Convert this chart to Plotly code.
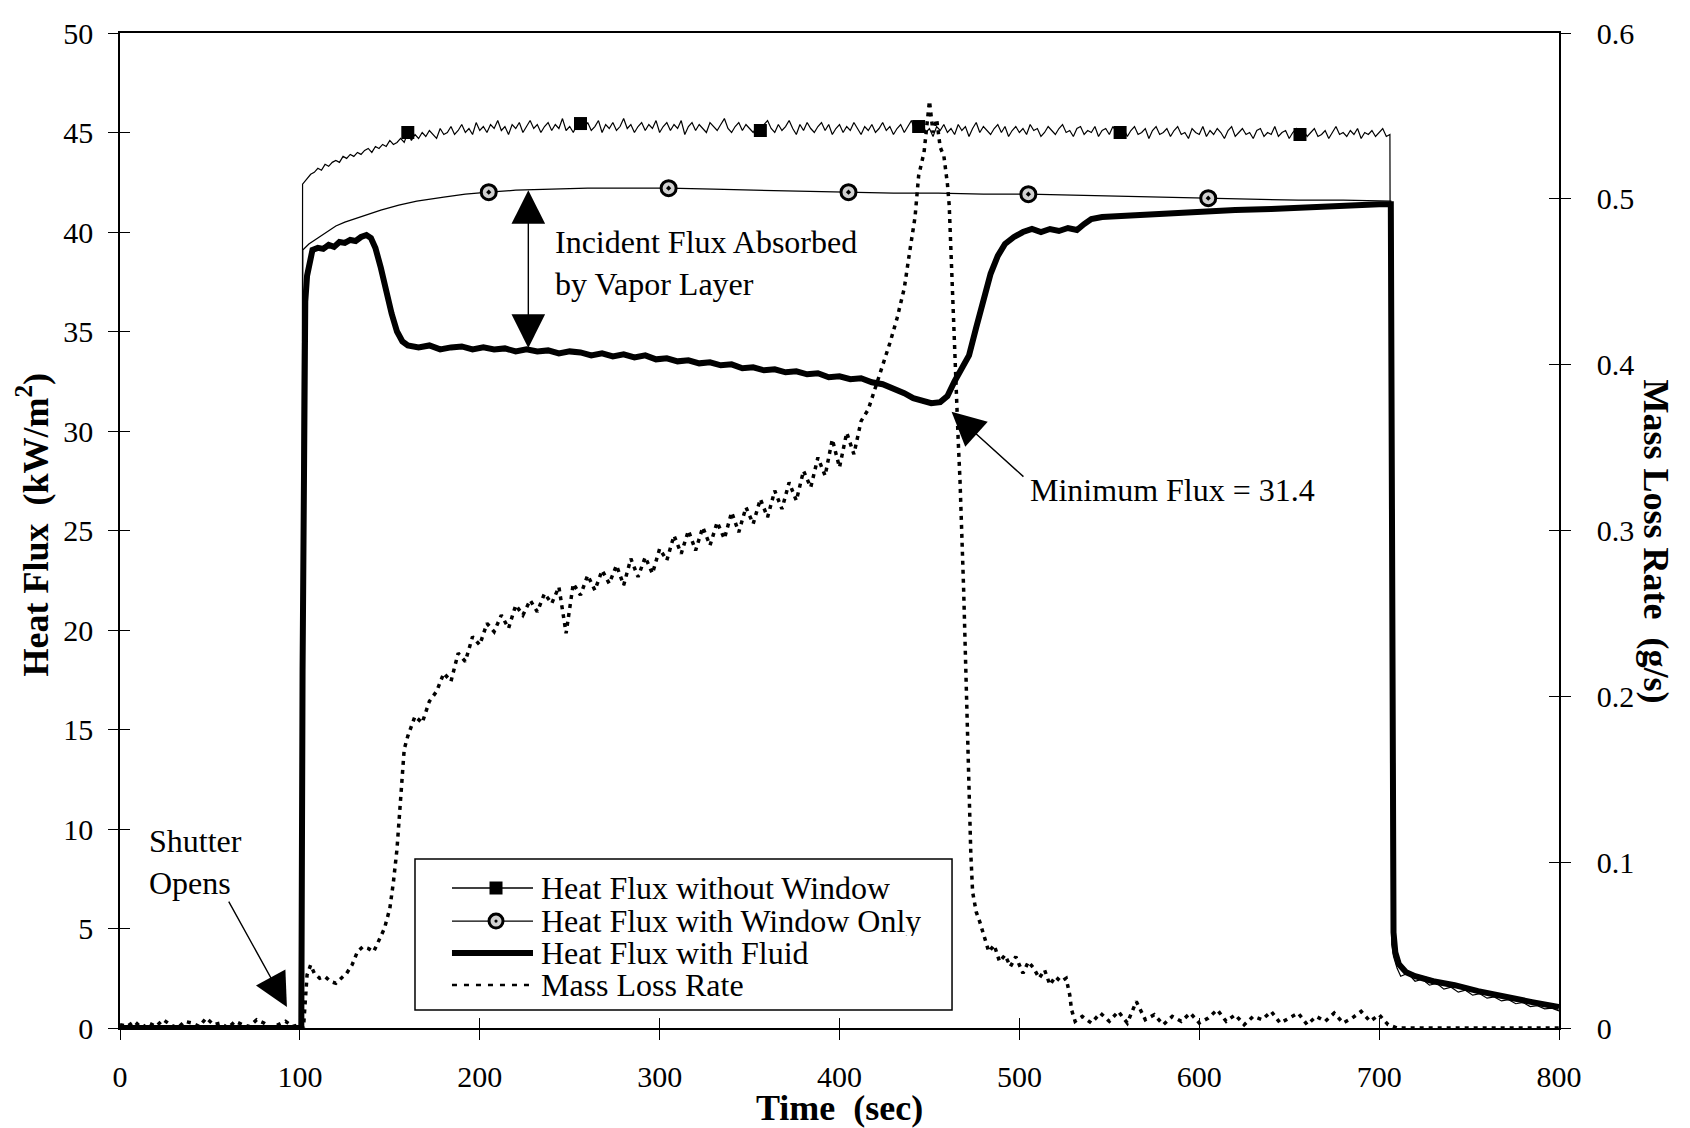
import plotly.graph_objects as go

# ---------------- data ----------------
# Heat flux measured without the window (kW/m^2), plateau sampled every 2 s
nowin_head_t = [0, 100, 101, 101.5]
nowin_head_q = [0, 0, 0, 42.4]
nowin_mid_t = list(range(104, 705, 2))
nowin_mid_q = [
    42.7, 42.9, 43.0, 43.2, 43.1, 43.4, 43.3, 43.5, 43.6, 43.5,
    43.8, 43.7, 43.9, 43.8, 44.0, 43.9, 44.1, 44.2, 44.0, 44.3,
    44.2, 44.4, 44.3, 44.6, 44.4, 44.5, 44.7, 44.5, 45.0, 44.6,
    44.9, 44.7, 45.0, 44.8, 45.1, 44.9, 44.7, 45.2, 44.9, 45.0,
    45.3, 44.9, 45.1, 45.4, 45.0, 45.2, 44.9, 45.5, 45.1, 45.3,
    45.0, 45.4, 45.2, 45.6, 45.1, 45.3, 44.9, 45.4, 45.2, 45.5,
    45.0, 45.3, 45.6, 45.2, 45.4, 45.0, 45.3, 45.5, 45.1, 45.4,
    45.2, 45.7, 45.1, 45.3, 45.0, 45.4, 45.45, 45.2, 45.5, 45.1,
    45.3, 45.6, 45.0, 45.4, 45.2, 45.5, 45.1, 45.3, 45.7, 45.2,
    45.4, 45.0, 45.3, 45.5, 45.1, 45.4, 45.2, 45.6, 45.0, 45.3,
    45.5, 45.1, 45.4, 45.2, 45.6, 44.9, 45.3, 45.5, 45.1, 45.4,
    45.2, 45.0, 45.5, 45.3, 45.1, 45.4, 45.7, 45.2, 45.0, 45.3,
    45.5, 45.1, 45.4, 45.2, 45.0, 45.3, 45.1, 45.4, 45.6, 45.2,
    45.0, 45.4, 45.1, 45.3, 45.6, 45.2, 44.9, 45.4, 45.1, 45.5,
    45.2, 45.0, 45.3, 45.5, 45.1, 45.4, 44.9, 45.2, 45.4, 45.0,
    45.3, 45.1, 45.5, 45.2, 44.9, 45.3, 45.1, 45.4, 45.0, 45.2,
    45.5, 45.1, 45.3, 44.9, 45.2, 45.4, 45.0, 45.3, 45.6, 45.1,
    45.3, 45.5, 45.0, 45.2, 44.8, 45.3, 45.1, 45.4, 45.0, 45.2,
    44.9, 45.4, 45.1, 45.3, 44.8, 45.2, 45.5, 45.0, 45.3, 45.1,
    44.9, 45.2, 45.4, 45.0, 45.3, 44.8, 45.1, 45.3, 45.0, 45.2,
    44.9, 45.4, 45.1, 45.2, 44.8, 45.0, 45.3, 45.1, 44.9, 45.2,
    45.4, 45.0, 45.1, 44.8, 45.2, 45.3, 44.9, 45.1, 45.0, 45.3,
    44.8, 45.1, 45.2, 44.9, 45.3, 45.0, 45.0, 45.2, 44.8, 45.1,
    45.3, 44.9, 45.0, 45.2, 44.7, 45.1, 45.3, 44.9, 45.0, 45.2,
    44.8, 45.1, 45.3, 44.9, 45.0, 44.7, 45.2, 45.0, 44.9, 45.3,
    44.8, 45.1, 44.9, 45.2, 45.0, 44.7, 45.1, 45.3, 44.8, 45.0,
    45.2, 44.9, 45.0, 44.7, 45.1, 45.2, 44.8, 45.0, 44.9, 45.3,
    44.8, 45.0, 45.1, 44.7, 45.0, 45.2, 44.9, 45.1, 44.8, 45.0,
    45.2, 44.8, 44.9, 45.1, 44.7, 45.0, 45.3, 44.9, 45.0, 44.8,
    45.1, 44.9, 45.2, 44.7, 45.0, 44.9, 45.1, 44.8, 45.0, 45.2,
    44.8,
]
nowin_tail_t = [706, 707, 708, 710, 712, 716, 720, 724, 728, 732, 736, 740, 744,
                748, 752, 756, 760, 764, 768, 772, 776, 780, 784, 788, 792, 796, 800]
nowin_tail_q = [44.9, 4.2, 3.6, 3.0, 2.6, 2.75, 2.35, 2.45, 2.15, 2.25, 1.95, 2.05, 1.8,
                1.9, 1.65, 1.72, 1.5, 1.56, 1.36, 1.42, 1.22, 1.28, 1.08, 1.12, 0.96, 1.0, 0.86]
nowin_marker_t = [160, 256, 356, 444, 556, 656]

# Heat flux with the window only (kW/m^2)
win_t = [0, 101, 101.6, 105, 110, 115, 120, 125, 135, 145, 155, 165, 180, 192, 205,
         220, 240, 260, 280, 305, 330, 355, 380, 405, 430, 455, 480, 505, 530, 555,
         580, 605, 630, 655, 680, 706.5, 707.2, 708, 710, 715, 720, 740, 760, 780, 800]
win_q = [0, 0, 39.1, 39.4, 39.7, 40.0, 40.3, 40.5, 40.8, 41.1, 41.35, 41.55, 41.75, 41.9, 42.0,
         42.1, 42.15, 42.2, 42.2, 42.2, 42.15, 42.1, 42.05, 42.0, 41.95, 41.95, 41.9, 41.9, 41.85, 41.8,
         41.75, 41.7, 41.65, 41.6, 41.6, 41.55, 8.5, 4.6, 3.4, 2.9, 2.7, 2.2, 1.8, 1.4, 1.05]
win_marker_t = [205, 305, 405, 505, 605]

# Heat flux with the fluid in place (kW/m^2)
fluid_t = [0, 100, 100.8, 101.5, 102.3, 103, 104, 105.5, 107, 110, 113, 116, 119, 122, 125,
           128, 131, 134, 137, 139.5, 142, 145, 148, 151, 154, 157, 160, 166, 172, 178, 184,
           190, 196, 202, 208, 214, 220, 226, 232, 238, 244, 250, 256, 262, 268, 274, 280,
           286, 292, 298, 304, 310, 316, 322, 328, 334, 340, 346, 352, 358, 364, 370, 376,
           382, 388, 394, 400, 406, 412, 418, 424, 430, 436, 441, 446, 451, 456, 460, 464,
           468, 472, 476, 480, 484, 488, 492, 497, 502, 507, 512, 517, 522, 527, 532, 536,
           540, 546, 555, 565, 580, 600, 620, 640, 660, 680, 700, 706.5, 707.2, 708, 709,
           711, 715, 720, 730, 742, 755, 770, 785, 800]
fluid_q = [0, 0, 0, 18, 32, 36.5, 37.8, 38.6, 39.1, 39.2, 39.15, 39.35, 39.25, 39.5, 39.45,
           39.6, 39.55, 39.75, 39.85, 39.7, 39.2, 38.2, 37.0, 35.9, 35.0, 34.5, 34.3, 34.2, 34.3, 34.1, 34.2,
           34.25, 34.1, 34.2, 34.1, 34.15, 34.0, 34.1, 34.0, 34.05, 33.9, 34.0, 33.95, 33.8, 33.9, 33.75, 33.85,
           33.7, 33.8, 33.6, 33.65, 33.5, 33.55, 33.4, 33.45, 33.3, 33.35, 33.15, 33.2, 33.05, 33.1, 32.95, 33.0,
           32.85, 32.9, 32.7, 32.75, 32.6, 32.65, 32.45, 32.35, 32.15, 31.9, 31.65, 31.5, 31.4, 31.45, 31.75, 32.5,
           33.1, 33.8, 35.2, 36.7, 37.9, 38.8, 39.4, 39.75, 40.0, 40.15, 40.0, 40.15, 40.05, 40.2, 40.1, 40.4,
           40.65, 40.75, 40.8, 40.85, 40.9, 41.0, 41.1, 41.15, 41.25, 41.3, 41.4, 41.4, 8.0, 4.8, 3.8,
           3.2, 2.8, 2.6, 2.35, 2.15, 1.85, 1.55, 1.3, 1.05]
MIN_FLUX = 31.4

# Mass loss rate of the fluid (g/s)
mlr_t = (list(range(0, 101, 4))
         + [102, 103, 104, 106, 108, 111, 114, 117, 120, 123, 126, 129, 132, 135, 138,
            141, 144, 147, 150, 152, 154, 156, 158]
         + [160, 164, 168, 172, 176, 180, 184, 188, 192, 196, 200, 204, 208, 212, 216,
            220, 224, 228, 232, 236, 240, 244, 248, 252, 256, 260, 264, 268, 272, 276,
            280, 284, 288, 292, 296, 300, 304, 308, 312, 316, 320, 324, 328, 332, 336,
            340, 344, 348, 352, 356, 360, 364, 368, 372, 376, 380, 384, 388, 392, 396,
            400, 404, 408]
         + [412, 416, 420, 424, 428, 432, 436, 439, 442, 444, 447, 450, 452, 454, 456,
            458, 460, 461, 462, 463, 464, 466, 467, 468, 469, 470, 471, 472, 473, 474,
            476, 478, 480, 483, 486, 489, 492, 495, 498, 502, 505, 508, 511, 514, 517,
            520, 523, 526, 528, 529, 531]
         + list(range(535, 706, 5))
         + [710, 800])
mlr_v = ([0.002, 0.001, 0.004, 0.000, 0.003, 0.001, 0.005, 0.002, 0.000, 0.004, 0.003, 0.001, 0.006,
          0.002, 0.003, 0.000, 0.004, 0.002, 0.001, 0.005, 0.003, 0.000, 0.002, 0.004, 0.001, 0.002]
         + [0.000, 0.015, 0.032, 0.038, 0.033, 0.030, 0.031, 0.028, 0.027, 0.030, 0.033, 0.038, 0.046,
            0.049, 0.048, 0.046, 0.053, 0.060, 0.072, 0.088, 0.108, 0.140, 0.168]
         + [0.176, 0.188, 0.184, 0.197, 0.203, 0.214, 0.209, 0.226, 0.221, 0.236, 0.231, 0.244, 0.239,
            0.249, 0.241, 0.255, 0.249, 0.258, 0.251, 0.262, 0.256, 0.266, 0.238, 0.268, 0.261, 0.273,
            0.264, 0.276, 0.268, 0.279, 0.267, 0.283, 0.272, 0.284, 0.274, 0.289, 0.282, 0.297, 0.286,
            0.300, 0.288, 0.302, 0.291, 0.305, 0.295, 0.311, 0.299, 0.314, 0.304, 0.319, 0.308, 0.324,
            0.313, 0.329, 0.318, 0.336, 0.326, 0.344, 0.333, 0.355, 0.338, 0.359, 0.346]
         + [0.366, 0.373, 0.386, 0.399, 0.413, 0.428, 0.446, 0.468, 0.489, 0.514, 0.528, 0.559, 0.540,
            0.548, 0.531, 0.526, 0.509, 0.496, 0.466, 0.434, 0.404, 0.354, 0.330, 0.300, 0.265, 0.225,
            0.180, 0.140, 0.105, 0.082, 0.070, 0.064, 0.056, 0.046, 0.050, 0.040, 0.044, 0.037, 0.043,
            0.033, 0.040, 0.036, 0.030, 0.035, 0.026, 0.031, 0.028, 0.030, 0.020, 0.011, 0.004]
         + [0.007, 0.003, 0.009, 0.004, 0.010, 0.003, 0.016, 0.005, 0.008, 0.002, 0.007, 0.004, 0.009,
            0.003, 0.006, 0.011, 0.004, 0.008, 0.002, 0.007, 0.005, 0.010, 0.003, 0.006, 0.009, 0.002,
            0.007, 0.004, 0.009, 0.003, 0.006, 0.010, 0.004, 0.008, 0.002]
         + [0.0, 0.0])

x_ticks = [0, 100, 200, 300, 400, 500, 600, 700, 800]
flux_ticks = [0, 5, 10, 15, 20, 25, 30, 35, 40, 45, 50]
mlr_ticks = [0, 0.1, 0.2, 0.3, 0.4, 0.5, 0.6]
mlr_ticktext = ["0", "0.1", "0.2", "0.3", "0.4", "0.5", "0.6"]

legend_labels = ["Heat Flux without Window", "Heat Flux with Window Only",
                 "Heat Flux with Fluid", "Mass Loss Rate"]

# ---------------- assemble ----------------
nowin_t = nowin_head_t + nowin_mid_t + nowin_tail_t
nowin_q = nowin_head_q + nowin_mid_q + nowin_tail_q
nowin_marker_q = [nowin_q[nowin_t.index(t)] for t in nowin_marker_t]
win_marker_q = [win_q[win_t.index(t)] for t in win_marker_t]

FONT = "Liberation Serif"
INK = "black"

fig = go.Figure()

fig.add_trace(go.Scatter(x=win_t, y=win_q, mode="lines", name=legend_labels[1],
                         line=dict(color=INK, width=1.3), hoverinfo="skip"))
fig.add_trace(go.Scatter(x=nowin_t, y=nowin_q, mode="lines", name=legend_labels[0],
                         line=dict(color=INK, width=1.2), hoverinfo="skip"))
fig.add_trace(go.Scatter(x=mlr_t, y=mlr_v, mode="lines", name=legend_labels[3], yaxis="y2",
                         line=dict(color=INK, width=3.5, dash="4px,5px"), hoverinfo="skip"))
fig.add_trace(go.Scatter(x=fluid_t, y=fluid_q, mode="lines", name=legend_labels[2],
                         line=dict(color=INK, width=6), hoverinfo="skip"))
fig.add_trace(go.Scatter(x=nowin_marker_t, y=nowin_marker_q, mode="markers",
                         marker=dict(symbol="square", size=13, color=INK), hoverinfo="skip"))
fig.add_trace(go.Scatter(x=win_marker_t, y=win_marker_q, mode="markers",
                         marker=dict(symbol="circle-dot", size=15, color="#d0d0d0",
                                     line=dict(color=INK, width=3)), hoverinfo="skip"))
# carriers for the inward half of the crossing tick marks
fig.add_trace(go.Scatter(x=[None], y=[None], xaxis="x2", yaxis="y3", hoverinfo="skip"))
fig.add_trace(go.Scatter(x=[None], y=[None], xaxis="x", yaxis="y4", hoverinfo="skip"))

tickfont = dict(family=FONT, size=30, color=INK)
common = dict(showgrid=False, zeroline=False, tickcolor=INK, tickwidth=1.3, ticklen=10)

fig.update_layout(
    width=1690, height=1128,
    margin=dict(l=120, r=131, t=33, b=100),
    paper_bgcolor="white", plot_bgcolor="white",
    showlegend=False,
    font=dict(family=FONT, size=30, color=INK),
    xaxis=dict(range=[0, 800], tickvals=x_ticks, ticks="outside", showline=True,
               linecolor=INK, linewidth=1.5, mirror=True, tickfont=tickfont,
               ticklabelstandoff=11, **common),
    xaxis2=dict(range=[0, 800], tickvals=x_ticks, ticks="inside", overlaying="x",
                anchor="y", showticklabels=False, showline=False, **common),
    yaxis=dict(range=[0, 50], tickvals=flux_ticks, ticks="outside", showline=True,
               linecolor=INK, linewidth=1.5, tickfont=tickfont, ticklabelstandoff=9,
               **common),
    yaxis2=dict(range=[0, 0.6], tickvals=mlr_ticks, ticktext=mlr_ticktext, ticks="outside",
                overlaying="y", side="right", anchor="x", showline=True, linecolor=INK,
                linewidth=1.5, tickfont=tickfont, ticklabelstandoff=20, **common),
    yaxis3=dict(range=[0, 50], tickvals=flux_ticks, ticks="inside", overlaying="y",
                side="left", anchor="x2", showticklabels=False, showline=False, **common),
    yaxis4=dict(range=[0, 0.6], tickvals=mlr_ticks, ticks="inside", overlaying="y",
                side="right", anchor="x", showticklabels=False, showline=False, **common),
)

annotations = []
title_font = dict(family=FONT, size=36, color=INK)
annotations.append(dict(xref="paper", yref="paper", x=-0.0605, y=0.506, textangle=-90,
                        text="<b>Heat Flux  (kW/m<sup>2</sup>)</b>", showarrow=False,
                        font=title_font, xanchor="center", yanchor="middle"))
annotations.append(dict(xref="paper", yref="paper", x=1.0674, y=0.489, textangle=90,
                        text="<b>Mass Loss Rate  (g/s)</b>", showarrow=False,
                        font=title_font, xanchor="center", yanchor="middle"))
annotations.append(dict(xref="paper", yref="paper", x=0.5, y=-0.0804,
                        text="<b>Time  (sec)</b>", showarrow=False,
                        font=title_font, xanchor="center", yanchor="middle"))

note_font = dict(family=FONT, size=32, color=INK)
# vapor-layer absorption: two-headed arrow between window-only and fluid curves
annotations.append(dict(x=227, y=42.1, ax=227, ay=34.1, xref="x", yref="y", axref="x", ayref="y",
                        text="", showarrow=True, arrowside="end+start",
                        arrowhead=2, startarrowhead=2, arrowsize=4.8, startarrowsize=4.8,
                        arrowwidth=1.4, arrowcolor=INK))
annotations.append(dict(x=240.7, y=38.44, xref="x", yref="y", showarrow=False,
                        text="Incident Flux Absorbed<br>by Vapor Layer", align="left",
                        xanchor="left", yanchor="middle", font=note_font))
# minimum flux callout
annotations.append(dict(x=462.3, y=30.97, ax=503.1, ay=27.64, xref="x", yref="y",
                        axref="x", ayref="y", text="", showarrow=True, arrowhead=2,
                        arrowsize=4.8, arrowwidth=1.4, arrowcolor=INK))
annotations.append(dict(x=504.7, y=27.04, xref="x", yref="y", showarrow=False,
                        text=f"Minimum Flux = {MIN_FLUX}", xanchor="left", yanchor="middle",
                        font=note_font))
# shutter callout
annotations.append(dict(x=92.8, y=1.06, ax=60.0, ay=6.43, xref="x", yref="y",
                        axref="x", ayref="y", text="", showarrow=True, arrowhead=2,
                        arrowsize=4.8, arrowwidth=1.4, arrowcolor=INK))
annotations.append(dict(x=15.0, y=8.34, xref="x", yref="y", showarrow=False,
                        text="Shutter<br>Opens", align="left", xanchor="left",
                        yanchor="middle", font=note_font))

# ---------------- legend box ----------------
LG_X0, LG_X1, LG_Y0, LG_Y1 = 0.205, 0.5782, 0.0181, 0.1699
row_y = [0.1407, 0.1075, 0.0754, 0.0432]
sample_x0, sample_x1, sample_mid, text_x = 0.2307, 0.2870, 0.2613, 0.2912

shapes = [dict(type="rect", xref="paper", yref="paper", x0=LG_X0, x1=LG_X1, y0=LG_Y0, y1=LG_Y1,
               line=dict(color=INK, width=1.5), fillcolor="white", layer="above")]
sample_styles = [dict(width=1.3), dict(width=1.3), dict(width=6), dict(width=2.5, dash="5px,7px")]
for yy, st in zip(row_y, sample_styles):
    shapes.append(dict(type="line", xref="paper", yref="paper", x0=sample_x0, x1=sample_x1,
                       y0=yy, y1=yy, line=dict(color=INK, **st), layer="above"))
shapes.append(dict(type="rect", xref="paper", yref="paper", xsizemode="pixel", ysizemode="pixel",
                   xanchor=sample_mid, yanchor=row_y[0], x0=-6.5, x1=6.5, y0=-6.5, y1=6.5,
                   fillcolor=INK, line=dict(width=0), layer="above"))
shapes.append(dict(type="circle", xref="paper", yref="paper", xsizemode="pixel", ysizemode="pixel",
                   xanchor=sample_mid, yanchor=row_y[1], x0=-7, x1=7, y0=-7, y1=7,
                   fillcolor="#d0d0d0", line=dict(color=INK, width=3), layer="above"))
shapes.append(dict(type="circle", xref="paper", yref="paper", xsizemode="pixel", ysizemode="pixel",
                   xanchor=sample_mid, yanchor=row_y[1], x0=-1.6, x1=1.6, y0=-1.6, y1=1.6,
                   fillcolor=INK, line=dict(width=0), layer="above"))
for yy, label in zip(row_y, legend_labels):
    annotations.append(dict(xref="paper", yref="paper", x=text_x, y=yy, text=label,
                            showarrow=False, xanchor="left", yanchor="middle", height=30,
                            valign="middle", font=note_font))

fig.update_layout(annotations=annotations, shapes=shapes)

fig.write_html("out.html", config={"displayModeBar": False})
